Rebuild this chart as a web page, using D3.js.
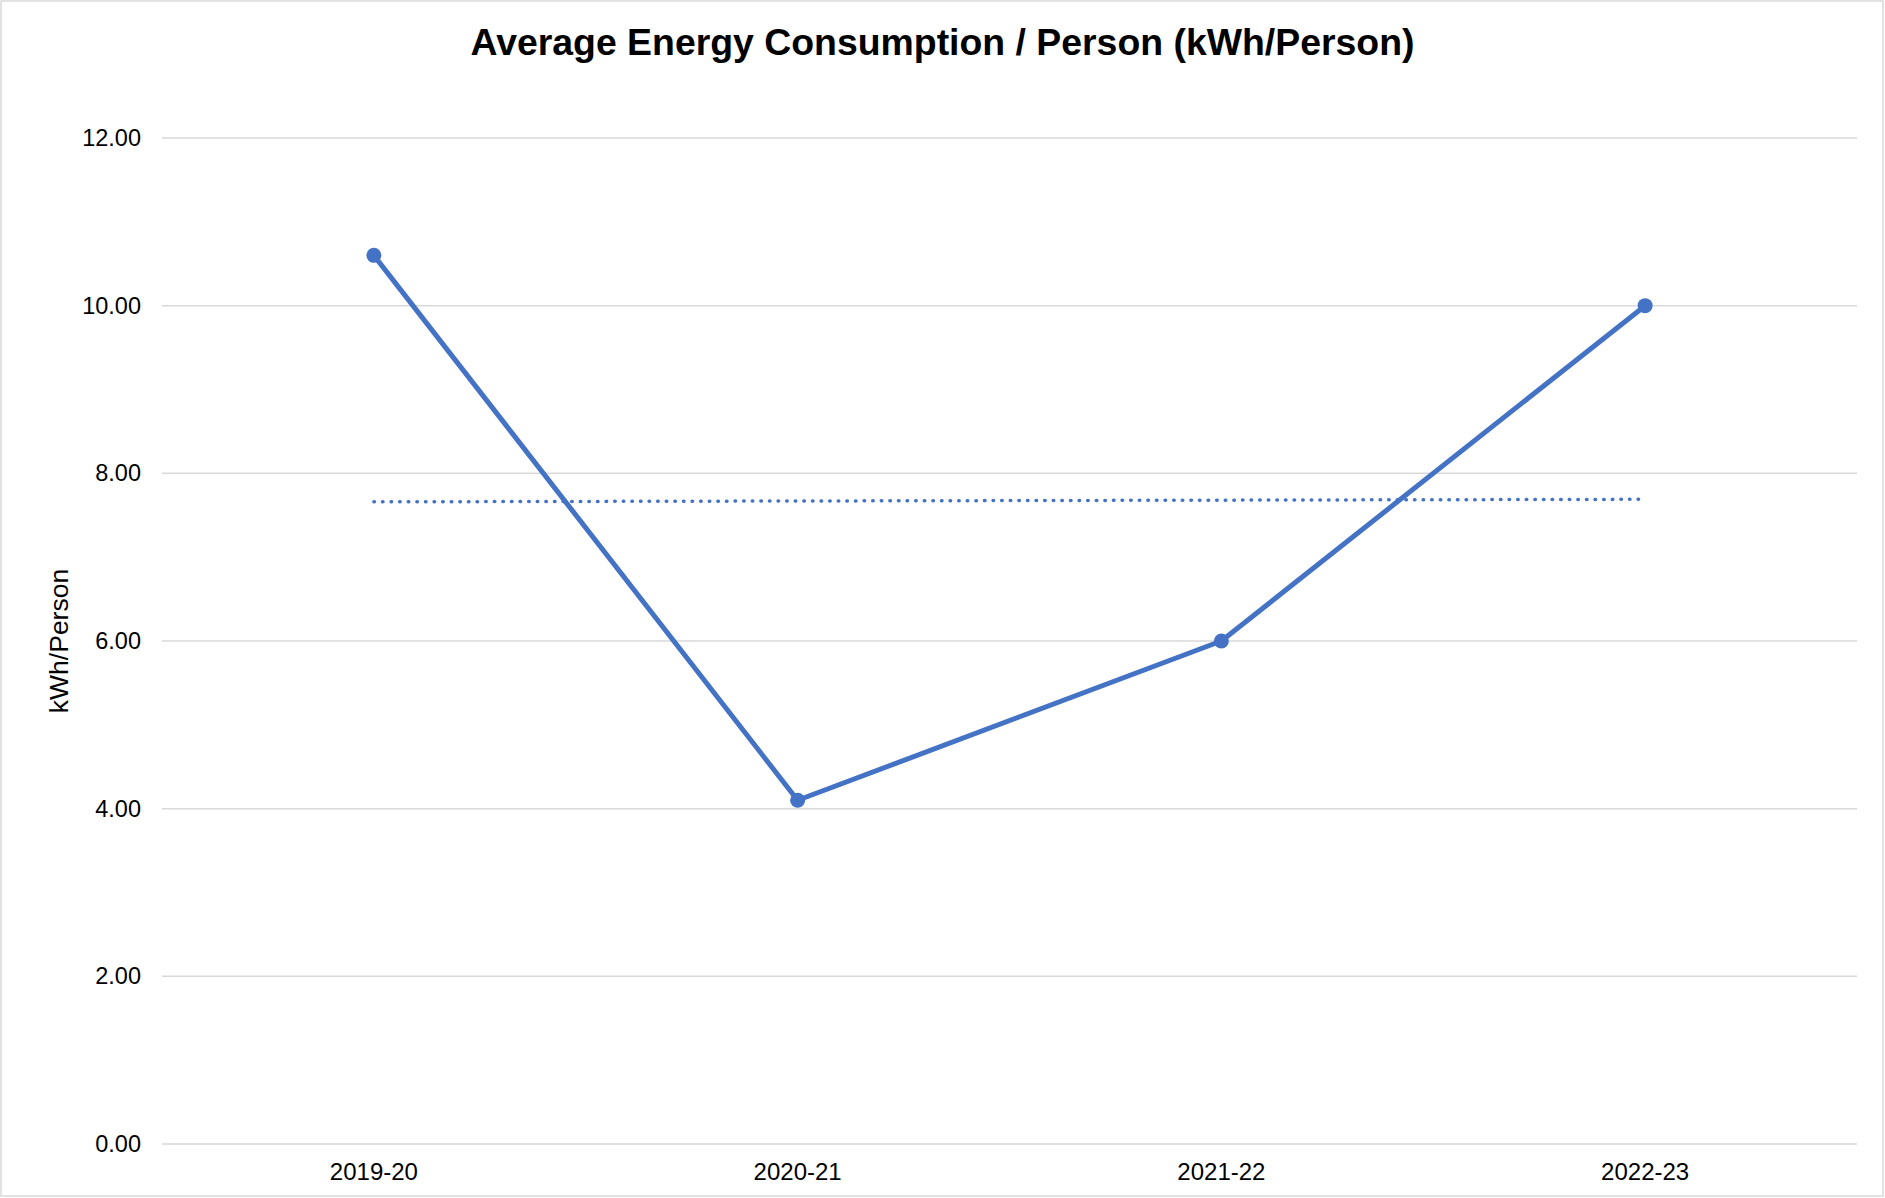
<!DOCTYPE html>
<meta charset="utf-8">
<style>
  body { margin: 0; background: #fff; }
  svg { font-family: "Liberation Sans", Arial, sans-serif; }
  .grid line { stroke: #d9d9d9; stroke-width: 1.5; }
  .axis text { fill: #000; }
</style>
<body>
<script src="https://d3js.org/d3.v7.min.js"></script>
<script>
// values
var years = ["2019-20", "2020-21", "2021-22", "2022-23"];
var kwhPerPerson = [10.6, 4.1, 6.0, 10.0];
var trendEnds = [7.66, 7.69];   // linear trendline, first and last category
var yTicks = [0, 2, 4, 6, 8, 10, 12];

var W = 1885, H = 1198;
var margin = {top: 138, right: 28, bottom: 54, left: 162};
var width = W - margin.left - margin.right,
    height = H - margin.top - margin.bottom;

var blue = "#4472c4";

var svg = d3.select("body").append("svg")
    .attr("width", W)
    .attr("height", H);

svg.append("rect")
    .attr("x", 1).attr("y", 1)
    .attr("width", W - 3).attr("height", H - 3)
    .attr("fill", "#fff")
    .attr("stroke", "#d9d9d9")
    .attr("stroke-width", 1.5);

var g = svg.append("g")
    .attr("transform", "translate(" + margin.left + "," + margin.top + ")");

var x = d3.scaleBand().domain(years).range([0, width]);
var y = d3.scaleLinear().domain([0, 12]).range([height, 0]);

// gridlines
g.append("g")
    .attr("class", "grid")
    .selectAll("line")
    .data(yTicks)
  .enter().append("line")
    .attr("x1", 0).attr("x2", width)
    .attr("y1", function(d) { return y(d); })
    .attr("y2", function(d) { return y(d); });

var yAxis = g.append("g")
    .attr("class", "axis")
    .call(d3.axisLeft(y).tickValues(yTicks).tickFormat(d3.format(".2f")).tickSize(0).tickPadding(21));
yAxis.select(".domain").remove();
yAxis.selectAll("text").style("font-size", "23.5px");

var xAxis = g.append("g")
    .attr("class", "axis")
    .attr("transform", "translate(0," + height + ")")
    .call(d3.axisBottom(x).tickSize(0).tickPadding(19));
xAxis.select(".domain").remove();
xAxis.selectAll("text").style("font-size", "24px");

// trendline
var trendX = [x(years[0]) + x.bandwidth() / 2, x(years[years.length - 1]) + x.bandwidth() / 2 - 6];
g.append("line")
    .attr("x1", trendX[0]).attr("x2", trendX[1])
    .attr("y1", y(trendEnds[0])).attr("y2", y(trendEnds[1]))
    .attr("stroke", blue)
    .attr("stroke-width", 3.5)
    .attr("stroke-linecap", "round")
    .attr("stroke-dasharray", "0.5 8.1");

var data = years.map(function(d, i) { return {year: d, value: kwhPerPerson[i]}; });

var line = d3.line()
    .x(function(d) { return x(d.year) + x.bandwidth() / 2; })
    .y(function(d) { return y(d.value); });

g.append("path")
    .datum(data)
    .attr("fill", "none")
    .attr("stroke", blue)
    .attr("stroke-width", 5)
    .attr("stroke-linejoin", "round")
    .attr("d", line);

g.selectAll(".dot")
    .data(data)
  .enter().append("circle")
    .attr("class", "dot")
    .attr("cx", function(d) { return x(d.year) + x.bandwidth() / 2; })
    .attr("cy", function(d) { return y(d.value); })
    .attr("r", 7.5)
    .attr("fill", blue);

// y axis title
svg.append("text")
    .attr("transform", "translate(68," + (margin.top + height / 2) + ") rotate(-90)")
    .attr("text-anchor", "middle")
    .style("font-size", "26.5px")
    .text("kWh/Person");

svg.append("text")
    .attr("x", W / 2)
    .attr("y", 55)
    .attr("text-anchor", "middle")
    .style("font-size", "37.4px")
    .style("font-weight", "bold")
    .text("Average Energy Consumption / Person (kWh/Person)");
</script>
